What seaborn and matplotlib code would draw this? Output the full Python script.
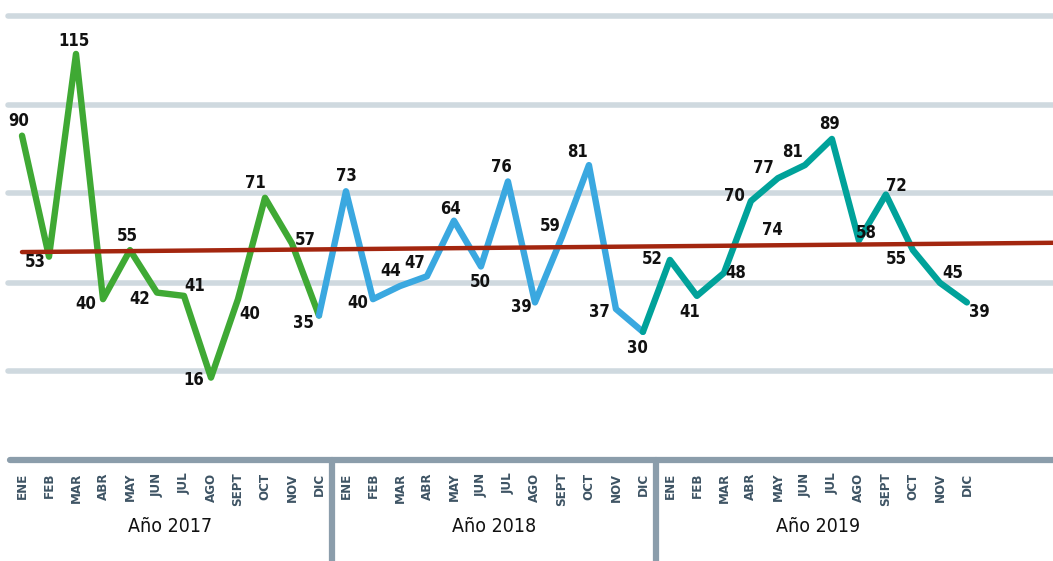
import numpy as np
import pandas as pd
import matplotlib.pyplot as plt
import seaborn as sns

# -------------------------------
# Data
# -------------------------------
months = ["ENE", "FEB", "MAR", "ABR", "MAY", "JUN", "JUL", "AGO", "SEPT", "OCT", "NOV", "DIC"]
years = ["Año 2017", "Año 2018", "Año 2019"]
vals_2017 = [90, 53, 115, 40, 55, 42, 41, 16, 40, 71, 57, 35]
vals_2018 = [73, 40, 44, 47, 64, 50, 76, 39, 59, 81, 37, 30]
vals_2019 = [52, 41, 48, 70, 77, 81, 89, 58, 72, 55, 45, 39]
trend_start = 54.4   # trend value at ENE 2017
trend_end = 57.0     # trend value at DIC 2019
grid_levels = [18, 45, 72.5, 99.5, 126.5]
extra_label = "74"

# label offsets in screen pixels, (right, down) -- style only
offsets = [(-3, -15), (-14, 5), (-2, -13), (-17, 5), (-3, -14), (-17, 6),
           (11, -10), (-17, 2), (12, 15), (-10, -15), (13, -4), (-16, 8),
           (0, -15), (-15, 4), (-9, -15), (-12, -13), (-3, -12), (-1, 16),
           (-7, -14), (-14, 5), (-12, -11), (-11, -13), (-17, 3), (-5, 16),
           (-18, -1), (-7, 16), (12, 0), (-16, -5), (-15, -10), (-12, -13),
           (-2, -15), (7, -7), (10, -9), (-17, 9), (13, -10), (12, 10)]

colors = ["#3fa934", "#3aa8e0", "#00a29a"]
trend_color = "#a3260f"
grid_color = "#cfd9df"
band_color = "#8b9dab"
month_color = "#3e5464"

df = pd.DataFrame({
    "idx": np.arange(36),
    "value": vals_2017 + vals_2018 + vals_2019,
    "month": months * 3,
})

# -------------------------------
# Plot
# -------------------------------
sns.set_style("white")
plt.rcParams["font.family"] = ["DejaVu Sans"]
plt.rcParams["font.stretch"] = "condensed"

fig = plt.figure(figsize=(10.53, 5.61), dpi=100)
ax = fig.add_axes([0, 101 / 561, 1, 460 / 561])
ax.set_xlim(-0.815, 38.19)
ax.set_ylim(-9.2, 131.5)

for g in grid_levels:
    ax.axhline(g, xmin=8 / 1053, xmax=1, color=grid_color, lw=4, zorder=0)

for k in range(3):
    lo = max(0, 12 * k - 1)
    seg = df.iloc[lo:12 * k + 12]
    sns.lineplot(data=seg, x="idx", y="value", color=colors[k], lw=4.6,
                 solid_capstyle="round", solid_joinstyle="round", ax=ax, zorder=3)

# trend line
slope = (trend_end - trend_start) / 35
tx = np.array([0, 38.19])
ax.plot(tx, trend_start + slope * tx, color=trend_color, lw=3.2,
        solid_capstyle="round", zorder=4)

# value labels
for i, row in df.iterrows():
    dx, dy = offsets[i]
    ax.annotate(str(row["value"]), (row["idx"], row["value"]),
                xytext=(dx, -dy), textcoords="offset pixels",
                ha="center", va="center", fontsize=12, fontweight="bold",
                color="#111111", zorder=5)
ax.annotate(extra_label, (27, 70), xytext=(21, -29), textcoords="offset pixels",
            ha="center", va="center", fontsize=12, fontweight="bold",
            color="#111111", zorder=5)

# bottom band and axis labels
ax.axhline(ax.get_ylim()[0], xmin=10 / 1053, xmax=1, color=band_color, lw=4.5,
           clip_on=False, zorder=6)
ax.set_xticks(df["idx"])
ax.set_xticklabels(df["month"], rotation=90, fontsize=9.5, fontweight="bold",
                   color=month_color, va="top")
ax.tick_params(axis="x", length=0, pad=9)
ax.set_yticks([])
ax.set_xlabel("")
ax.set_ylabel("")
for s in ax.spines.values():
    s.set_visible(False)

trans = ax.get_xaxis_transform()
for sep in [11.5, 23.5]:
    ax.plot([sep, sep], [0, -101 / 460], color=band_color, lw=4.5,
            transform=trans, clip_on=False, zorder=6)
for k, yl in enumerate(years):
    ax.text(12 * k + 5.5, -67 / 460, yl, transform=trans, ha="center",
            va="center", fontsize=14, color="#111111")

fig.savefig("out.png", dpi=100)
